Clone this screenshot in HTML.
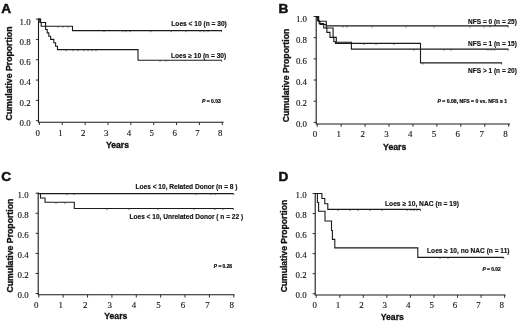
<!DOCTYPE html>
<html><head><meta charset="utf-8"><title>Figure</title>
<style>
html,body{margin:0;padding:0;background:#fff;}
svg{display:block;filter:blur(0.32px);}
text{fill:#111;}
.pl{font:bold 12px "Liberation Sans",sans-serif;stroke:#111;stroke-width:0.45;}
.at{font:bold 8.9px "Liberation Sans",sans-serif;stroke:#111;stroke-width:0.33;}
.yl{font:bold 8.8px "Liberation Sans",sans-serif;stroke:#111;stroke-width:0.33;}
.tl{font:8.9px "Liberation Serif",serif;fill:#111;stroke:#111;stroke-width:0.12;}
.lb{font:bold 6.6px "Liberation Sans",sans-serif;stroke:#111;stroke-width:0.15;}
.pv{font:bold 5.0px "Liberation Sans",sans-serif;stroke:#111;stroke-width:0.22;}
.ax{fill:none;stroke:#1a1a1a;stroke-width:1.1;}
.tk{fill:none;stroke:#1a1a1a;stroke-width:0.9;}
.cv{fill:none;stroke:#1a1a1a;stroke-width:1.1;stroke-linejoin:miter;}
.cs{fill:none;stroke:#444;stroke-width:0.8;}
</style></head>
<body>
<svg width="520" height="322" viewBox="0 0 520 322">
<rect width="520" height="322" fill="#fff"/>
<text transform="translate(1.3,12.7) scale(1.14,1.04)" class="pl">A</text>
<path d="M38.5,18.5 V122.25 H223.7" class="ax"/>
<path d="M35.9,19.10 H38.5" class="tk"/>
<text x="30.6" y="24.50" class="tl" text-anchor="end">1.0</text>
<path d="M35.9,39.42 H38.5" class="tk"/>
<text x="30.6" y="44.82" class="tl" text-anchor="end">0.8</text>
<path d="M35.9,59.74 H38.5" class="tk"/>
<text x="30.6" y="65.14" class="tl" text-anchor="end">0.6</text>
<path d="M35.9,80.06 H38.5" class="tk"/>
<text x="30.6" y="85.46" class="tl" text-anchor="end">0.4</text>
<path d="M35.9,100.38 H38.5" class="tk"/>
<text x="30.6" y="105.78" class="tl" text-anchor="end">0.2</text>
<path d="M35.9,120.70 H38.5" class="tk"/>
<text x="30.6" y="126.10" class="tl" text-anchor="end">0.0</text>
<path d="M39.40,122.25 v2.8" class="tk"/>
<text x="37.70" y="135.6" class="tl" text-anchor="middle">0</text>
<path d="M62.26,122.25 v2.8" class="tk"/>
<text x="60.52" y="135.6" class="tl" text-anchor="middle">1</text>
<path d="M85.12,122.25 v2.8" class="tk"/>
<text x="83.34" y="135.6" class="tl" text-anchor="middle">2</text>
<path d="M107.98,122.25 v2.8" class="tk"/>
<text x="106.16" y="135.6" class="tl" text-anchor="middle">3</text>
<path d="M130.84,122.25 v2.8" class="tk"/>
<text x="128.98" y="135.6" class="tl" text-anchor="middle">4</text>
<path d="M153.70,122.25 v2.8" class="tk"/>
<text x="151.80" y="135.6" class="tl" text-anchor="middle">5</text>
<path d="M176.56,122.25 v2.8" class="tk"/>
<text x="174.62" y="135.6" class="tl" text-anchor="middle">6</text>
<path d="M199.42,122.25 v2.8" class="tk"/>
<text x="197.44" y="135.6" class="tl" text-anchor="middle">7</text>
<path d="M222.28,122.25 v2.8" class="tk"/>
<text x="220.26" y="135.6" class="tl" text-anchor="middle">8</text>
<text x="117.5" y="148.2" class="at" text-anchor="middle" textLength="23.0" lengthAdjust="spacingAndGlyphs">Years</text>
<text transform="translate(12.3,73.5) rotate(-90)" class="yl" text-anchor="middle" textLength="94" lengthAdjust="spacingAndGlyphs">Cumulative Proportion</text>
<path d="M38.5,19 H40.6 V22.5 H45.6 V26.2 H72.5 V30.6 H222" class="cv"/>
<path d="M38.5,19 H39.8 V22.5 H41.2 V26.2 H45.6 V29.5 H47.2 V32.9 H48.8 V36.3 H50.6 V39.4 H53.8 V42.8 H55.6 V46.2 H57.5 V49.6 H138 V60.2 H222" class="cv"/>
<path d="M58,26.2 v1.6M63,26.2 v1.6M68,26.2 v1.6M104,30.6 v1.6M123,30.6 v1.6M126,30.6 v1.6M130,30.6 v1.6M151,30.6 v1.6M171,30.6 v1.6M186,30.6 v1.6M200,30.6 v1.6M204,30.6 v1.6M208,30.6 v1.6M221.6,30.6 v1.6" class="cs"/>
<path d="M66,49.6 v1.6M73,49.6 v1.6M78,49.6 v1.6M84,49.6 v1.6M88,49.6 v1.6M92,49.6 v1.6M96,49.6 v1.6M160,60.2 v1.6M166,60.2 v1.6M221.6,60.2 v1.6" class="cs"/>
<text x="171.3" y="26.3" class="lb" textLength="55.5" lengthAdjust="spacingAndGlyphs">Loes &lt; 10 (n = 30)</text>
<text x="171" y="57.9" class="lb" textLength="55.2" lengthAdjust="spacingAndGlyphs">Loes ≥ 10 (n = 30)</text>
<text x="202" y="102.6" class="pv" textLength="18.8" lengthAdjust="spacingAndGlyphs"><tspan font-style='italic'>P</tspan> = 0.03</text>
<text transform="translate(278.4,12.7) scale(1.14,1.04)" class="pl">B</text>
<path d="M316.2,15.9 V124.0 H510.0" class="ax"/>
<path d="M313.59999999999997,16.50 H316.2" class="tk"/>
<text x="307.0" y="21.50" class="tl" text-anchor="end">1.0</text>
<path d="M313.59999999999997,37.68 H316.2" class="tk"/>
<text x="307.0" y="42.68" class="tl" text-anchor="end">0.8</text>
<path d="M313.59999999999997,58.86 H316.2" class="tk"/>
<text x="307.0" y="63.86" class="tl" text-anchor="end">0.6</text>
<path d="M313.59999999999997,80.04 H316.2" class="tk"/>
<text x="307.0" y="85.04" class="tl" text-anchor="end">0.4</text>
<path d="M313.59999999999997,101.22 H316.2" class="tk"/>
<text x="307.0" y="106.22" class="tl" text-anchor="end">0.2</text>
<path d="M313.59999999999997,122.40 H316.2" class="tk"/>
<text x="307.0" y="127.40" class="tl" text-anchor="end">0.0</text>
<path d="M317.20,124.0 v2.8" class="tk"/>
<text x="315.00" y="137" class="tl" text-anchor="middle">0</text>
<path d="M341.14,124.0 v2.8" class="tk"/>
<text x="338.80" y="137" class="tl" text-anchor="middle">1</text>
<path d="M365.08,124.0 v2.8" class="tk"/>
<text x="362.60" y="137" class="tl" text-anchor="middle">2</text>
<path d="M389.02,124.0 v2.8" class="tk"/>
<text x="386.40" y="137" class="tl" text-anchor="middle">3</text>
<path d="M412.96,124.0 v2.8" class="tk"/>
<text x="410.20" y="137" class="tl" text-anchor="middle">4</text>
<path d="M436.90,124.0 v2.8" class="tk"/>
<text x="434.00" y="137" class="tl" text-anchor="middle">5</text>
<path d="M460.84,124.0 v2.8" class="tk"/>
<text x="457.80" y="137" class="tl" text-anchor="middle">6</text>
<path d="M484.78,124.0 v2.8" class="tk"/>
<text x="481.60" y="137" class="tl" text-anchor="middle">7</text>
<path d="M508.72,124.0 v2.8" class="tk"/>
<text x="505.40" y="137" class="tl" text-anchor="middle">8</text>
<text x="394.7" y="149.6" class="at" text-anchor="middle" textLength="23.2" lengthAdjust="spacingAndGlyphs">Years</text>
<text transform="translate(288.6,75.5) rotate(-90)" class="yl" text-anchor="middle" textLength="93.5" lengthAdjust="spacingAndGlyphs">Cumulative Proportion</text>
<path d="M316.2,16.6 H318.7 V21.2 H326.3 V25.9 H508.5" class="cv"/>
<path d="M316.2,16.6 H318.2 V21.5 H320 V24.5 H326.3 V28 H333.1 V37.4 H336.3 V42.2 H351.4 V49.1 H508.5" class="cv"/>
<path d="M316.2,16.6 H317.6 V20.5 H319.2 V23.5 H323.7 V28 H326.9 V32.4 H330 V37.4 H333.8 V41.8 H335.5 V43.4 H420.5 V62.9 H502" class="cv"/>
<path d="M343,25.9 v1.6M347,25.9 v1.6M372,25.9 v1.6M406,25.9 v1.6M434,25.9 v1.6M470,25.9 v1.6M484,25.9 v1.6M490,25.9 v1.6M508.2,25.9 v1.6" class="cs"/>
<path d="M414,49.1 v1.6M444,49.1 v1.6M451,49.1 v1.6M488,49.1 v1.6M491,49.1 v1.6M494,49.1 v1.6M508.2,49.1 v1.6" class="cs"/>
<path d="M364,43.4 v1.6M376,43.4 v1.6M394,43.4 v1.6M423,62.9 v1.6M501.7,62.9 v1.6" class="cs"/>
<text x="468.1" y="23.5" class="lb" textLength="48.8" lengthAdjust="spacingAndGlyphs">NFS = 0 (n = 25)</text>
<text x="468.1" y="45.9" class="lb" textLength="48.8" lengthAdjust="spacingAndGlyphs">NFS = 1 (n = 15)</text>
<text x="468.1" y="73" class="lb" textLength="48.8" lengthAdjust="spacingAndGlyphs">NFS &gt; 1 (n = 20)</text>
<text x="437.5" y="102.8" class="pv" textLength="69.5" lengthAdjust="spacingAndGlyphs"><tspan font-style='italic'>P</tspan> = 0.08, NFS = 0 vs. NFS ≥ 1</text>
<text transform="translate(1.3,181.2) scale(1.14,1.04)" class="pl">C</text>
<path d="M38.2,192.6 V294.8 H234.6" class="ax"/>
<path d="M35.6,193.20 H38.2" class="tk"/>
<text x="28.7" y="198.00" class="tl" text-anchor="end">1.0</text>
<path d="M35.6,213.26 H38.2" class="tk"/>
<text x="28.7" y="218.06" class="tl" text-anchor="end">0.8</text>
<path d="M35.6,233.32 H38.2" class="tk"/>
<text x="28.7" y="238.12" class="tl" text-anchor="end">0.6</text>
<path d="M35.6,253.38 H38.2" class="tk"/>
<text x="28.7" y="258.18" class="tl" text-anchor="end">0.4</text>
<path d="M35.6,273.44 H38.2" class="tk"/>
<text x="28.7" y="278.24" class="tl" text-anchor="end">0.2</text>
<path d="M35.6,293.50 H38.2" class="tk"/>
<text x="28.7" y="298.30" class="tl" text-anchor="end">0.0</text>
<path d="M38.80,294.8 v2.8" class="tk"/>
<text x="36.30" y="307.5" class="tl" text-anchor="middle">0</text>
<path d="M63.17,294.8 v2.8" class="tk"/>
<text x="60.74" y="307.5" class="tl" text-anchor="middle">1</text>
<path d="M87.54,294.8 v2.8" class="tk"/>
<text x="85.18" y="307.5" class="tl" text-anchor="middle">2</text>
<path d="M111.91,294.8 v2.8" class="tk"/>
<text x="109.62" y="307.5" class="tl" text-anchor="middle">3</text>
<path d="M136.28,294.8 v2.8" class="tk"/>
<text x="134.06" y="307.5" class="tl" text-anchor="middle">4</text>
<path d="M160.65,294.8 v2.8" class="tk"/>
<text x="158.50" y="307.5" class="tl" text-anchor="middle">5</text>
<path d="M185.02,294.8 v2.8" class="tk"/>
<text x="182.94" y="307.5" class="tl" text-anchor="middle">6</text>
<path d="M209.39,294.8 v2.8" class="tk"/>
<text x="207.38" y="307.5" class="tl" text-anchor="middle">7</text>
<path d="M233.76,294.8 v2.8" class="tk"/>
<text x="231.82" y="307.5" class="tl" text-anchor="middle">8</text>
<text x="115.8" y="319.2" class="at" text-anchor="middle" textLength="23.0" lengthAdjust="spacingAndGlyphs">Years</text>
<text transform="translate(12.6,245.6) rotate(-90)" class="yl" text-anchor="middle" textLength="93.8" lengthAdjust="spacingAndGlyphs">Cumulative Proportion</text>
<path d="M38.2,193.6 H233.6" class="cv"/>
<path d="M38.2,193.5 H40.5 V198 H45 V202.3 H74.3 V208.5 H233.6" class="cv"/>
<path d="M67,193.5 v1.6M74,193.5 v1.6M196,193.5 v1.6M211,193.5 v1.6M215,193.5 v1.6M233.8,193.5 v1.6" class="cs"/>
<path d="M56,202.3 v1.6M65,202.3 v1.6M107,208.5 v1.6M129,208.5 v1.6M158,208.5 v1.6M194,208.5 v1.6M215,208.5 v1.6M223,208.5 v1.6M233.3,208.5 v1.6" class="cs"/>
<text x="135.5" y="188.8" class="lb" textLength="102" lengthAdjust="spacingAndGlyphs">Loes &lt; 10, Related Donor (n = 8 )</text>
<text x="129.5" y="218.8" class="lb" textLength="113.6" lengthAdjust="spacingAndGlyphs">Loes &lt; 10, Unrelated Donor ( n = 22 )</text>
<text x="213.8" y="267.6" class="pv" textLength="18.3" lengthAdjust="spacingAndGlyphs"><tspan font-style='italic'>P</tspan> = 0.28</text>
<text transform="translate(278.4,181.1) scale(1.14,1.04)" class="pl">D</text>
<path d="M315.2,192.9 V295.0 H505.6" class="ax"/>
<path d="M312.59999999999997,193.50 H315.2" class="tk"/>
<text x="306.6" y="198.10" class="tl" text-anchor="end">1.0</text>
<path d="M312.59999999999997,213.55 H315.2" class="tk"/>
<text x="306.6" y="218.15" class="tl" text-anchor="end">0.8</text>
<path d="M312.59999999999997,233.60 H315.2" class="tk"/>
<text x="306.6" y="238.20" class="tl" text-anchor="end">0.6</text>
<path d="M312.59999999999997,253.65 H315.2" class="tk"/>
<text x="306.6" y="258.25" class="tl" text-anchor="end">0.4</text>
<path d="M312.59999999999997,273.70 H315.2" class="tk"/>
<text x="306.6" y="278.30" class="tl" text-anchor="end">0.2</text>
<path d="M312.59999999999997,293.75 H315.2" class="tk"/>
<text x="306.6" y="298.35" class="tl" text-anchor="end">0.0</text>
<path d="M316.20,295.0 v2.8" class="tk"/>
<text x="314.60" y="307.8" class="tl" text-anchor="middle">0</text>
<path d="M339.75,295.0 v2.8" class="tk"/>
<text x="338.00" y="307.8" class="tl" text-anchor="middle">1</text>
<path d="M363.30,295.0 v2.8" class="tk"/>
<text x="361.40" y="307.8" class="tl" text-anchor="middle">2</text>
<path d="M386.85,295.0 v2.8" class="tk"/>
<text x="384.80" y="307.8" class="tl" text-anchor="middle">3</text>
<path d="M410.40,295.0 v2.8" class="tk"/>
<text x="408.20" y="307.8" class="tl" text-anchor="middle">4</text>
<path d="M433.95,295.0 v2.8" class="tk"/>
<text x="431.60" y="307.8" class="tl" text-anchor="middle">5</text>
<path d="M457.50,295.0 v2.8" class="tk"/>
<text x="455.00" y="307.8" class="tl" text-anchor="middle">6</text>
<path d="M481.05,295.0 v2.8" class="tk"/>
<text x="478.40" y="307.8" class="tl" text-anchor="middle">7</text>
<path d="M504.60,295.0 v2.8" class="tk"/>
<text x="501.80" y="307.8" class="tl" text-anchor="middle">8</text>
<text x="392.3" y="319.6" class="at" text-anchor="middle" textLength="23.0" lengthAdjust="spacingAndGlyphs">Years</text>
<text transform="translate(286.9,246.1) rotate(-90)" class="yl" text-anchor="middle" textLength="92.5" lengthAdjust="spacingAndGlyphs">Cumulative Proportion</text>
<path d="M315.2,193.5 H321.9 V198.5 H324.8 V203.8 H327.8 V209.4 H420.5" class="cv"/>
<path d="M315.2,193.5 H317.4 V202.5 H318.6 V211.3 H325 V221 H331.5 V230.5 H332.4 V239.4 H334.8 V247.9 H417.8 V257.4 H503.8" class="cv"/>
<path d="M338,209.4 v1.6M350,209.4 v1.6M358,209.4 v1.6M370,209.4 v1.6M382,209.4 v1.6M407,209.4 v1.6M411,209.4 v1.6M414,209.4 v1.6M417,209.4 v1.6M420.5,209.4 v1.6" class="cs"/>
<path d="M440,257.3 v1.6M448,257.3 v1.6M503.8,257.3 v1.6" class="cs"/>
<text x="385" y="205.6" class="lb" textLength="74" lengthAdjust="spacingAndGlyphs">Loes ≥ 10, NAC (n = 19)</text>
<text x="427.1" y="253.2" class="lb" textLength="82.4" lengthAdjust="spacingAndGlyphs">Loes ≥ 10, no NAC (n = 11)</text>
<text x="482.5" y="271.2" class="pv" textLength="18.3" lengthAdjust="spacingAndGlyphs"><tspan font-style='italic'>P</tspan> = 0.02</text>
</svg>
</body></html>
